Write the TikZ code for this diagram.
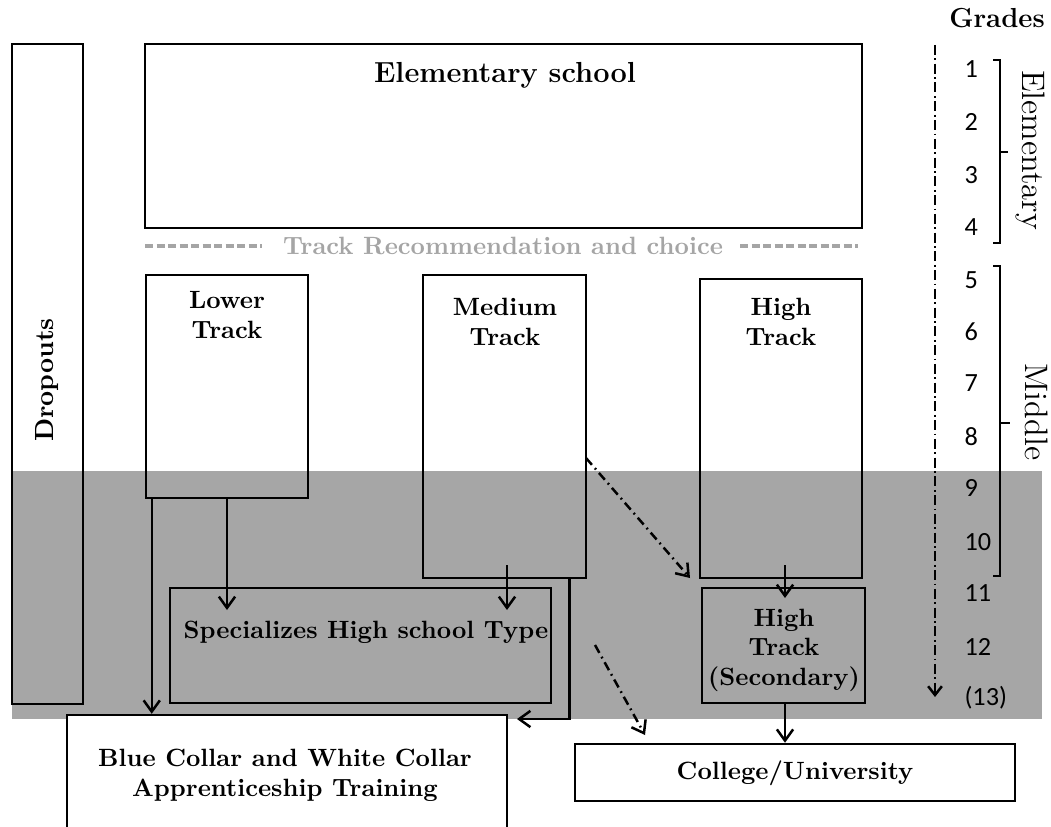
\documentclass[tikz,border=0pt]{standalone}
\usepackage{fontspec}
\newfontfamily\calib{Carlito}
\usetikzlibrary{arrows.meta,fit}
\definecolor{band}{HTML}{A6A6A6}
\definecolor{trk}{HTML}{A5A5A5}
\tikzset{
  box/.style={draw=black, line width=1pt, inner sep=0pt},
  lbl/.style={font=\fontsize{10}{12}\selectfont\bfseries, align=center, inner sep=0pt},
  arr/.style={line width=1pt, -{Straight Barb[length=4.5pt,width=6.5pt,line width=1pt]}},
  dd/.style={arr, dash pattern=on 3.6pt off 1.8pt on 0.7pt off 1.8pt},
  axisline/.style={line width=1.1pt, dash pattern=on 4pt off 1.4pt on 0.7pt off 1.4pt,
     -{Straight Barb[length=3.5pt,width=5.5pt,line width=1pt]}},
  trkdash/.style={draw=trk, line width=1.3pt, dash pattern=on 3.2pt off 1.4pt},
  num/.style={font=\calib\fontsize{10.5}{12}\selectfont, anchor=base west, inner sep=0pt},
  brk/.style={line width=1pt},
}
\begin{document}
\begin{tikzpicture}[x=0.4pt,y=-0.4pt]
\clip (0,0) rectangle (1051,826);
\fill[white] (0,0) rectangle (1051,826);
% grey band
\fill[band] (12,471) rectangle (1042,719);

% boxes
\node[box, fit={(12,44) (83,704)}] (drop) {};
\node[lbl, rotate=90, font=\fontsize{10.5}{12}\selectfont\bfseries] (droptxt) at (47,380) {Dropouts};

\node[box, fit={(145,44) (862,228)}] (elem) {};
\node[lbl, font=\fontsize{11.6}{13}\selectfont\bfseries] (elemtxt) at (505,75) {Elementary school};

\node[lbl, text=trk] (trk) at (503,246) {Track Recommendation and choice};
\draw[trkdash] (145,246) -- (262,246);
\draw[trkdash] (740,246) -- (858,246);

\node[box, fit={(146,275) (308,498)}] (lower) {};
\node[lbl] (lowertxt) at (227,315) {Lower\\Track};

\node[box, fit={(423,275) (586,578)}] (medium) {};
\node[lbl] (mediumtxt) at (505,322) {Medium\\Track};

\node[box, fit={(700,279) (862,578)}] (high) {};
\node[lbl] (hightxt) at (781,322) {High\\Track};

\node[box, fit={(170,588) (551,703)}] (spec) {};
\node[lbl] (spectxt) at (366,632) {Specializes High school Type};

\node[box, fit={(702,588) (865,703)}] (highsec) {};
\node[lbl, font=\fontsize{10}{11.8}\selectfont\bfseries] (highsectxt) at (784,650) {High\\Track\\(Secondary)};

\node[box, fill=white, fit={(67,715) (507,860)}] (blue) {};
\node[lbl] (bluetxt) at (285,775) {Blue Collar and White Collar\\Apprenticeship Training};

\node[box, fill=white, fit={(575,744) (1015,801)}] (college) {};
\node[lbl] (collegetxt) at (795,773) {College/University};

% connectors
\draw[arr] ([xshift=2.8pt]lower.south west) -- ([xshift=2.8pt]lower.south west |- blue.north);
\coordinate (lsp) at (227,610);
\draw[arr] (lower.south) -- (lsp);
\coordinate (ms1) at (507,565);
\coordinate (ms2) at (507,610);
\draw[arr] (ms1) -- (ms2);
\coordinate (mb) at (517,719);
\draw[arr] ([xshift=-7.2pt]medium.south east) |- (mb);
\coordinate (md1) at (586,458);
\coordinate (md2) at (690,578);
\draw[dd] (md1) -- (md2);
\coordinate (sc1) at (595,645);
\coordinate (sc2) at (645,735);
\draw[dd] (sc1) -- (sc2);
\coordinate (hh1) at (785,565);
\coordinate (hh2) at (785,598);
\draw[arr] (hh1) -- (hh2);
\coordinate (hc) at (785,703);
\draw[arr] (hc) -- (hc |- college.north);

% grades
\node[lbl, font=\fontsize{11}{13}\selectfont\bfseries] (grades) at (997,18) {Grades};
\coordinate (gtop) at (935,45);
\coordinate (gbot) at (935,697);
\draw[axisline] (gtop) -- (gbot);

\node[num] (g1) at (964,78) {1};
\node[num] (g2) at (964,131) {2};
\node[num] (g3) at (964,183) {3};
\node[num] (g4) at (964,235) {4};
\node[num] (g5) at (964,288) {5};
\node[num] (g6) at (964,340) {6};
\node[num] (g7) at (964,391) {7};
\node[num] (g8) at (964,445) {8};
\node[num] (g9) at (964,496) {9};
\node[num] (g10) at (964,550) {10};
\node[num] (g11) at (964,601) {11};
\node[num] (g12) at (964,655) {12};
\node[num] (g13) at (964,705) {(13)};

\draw[brk] (993,60) -| (1000,243) -- (993,243);
\draw[brk] (1000,152) -- (1008,152);
\draw[brk] (993,266) -| (1000,576) -- (993,576);
\draw[brk] (1000,423) -- (1010,423);

\node[rotate=-90, font=\fontsize{13}{15}\selectfont, inner sep=0pt] (elemlbl) at (1030,150) {Elementary};
\node[rotate=-90, font=\fontsize{13}{15}\selectfont, inner sep=0pt] (midlbl) at (1037,412) {Middle};
\end{tikzpicture}
\end{document}
